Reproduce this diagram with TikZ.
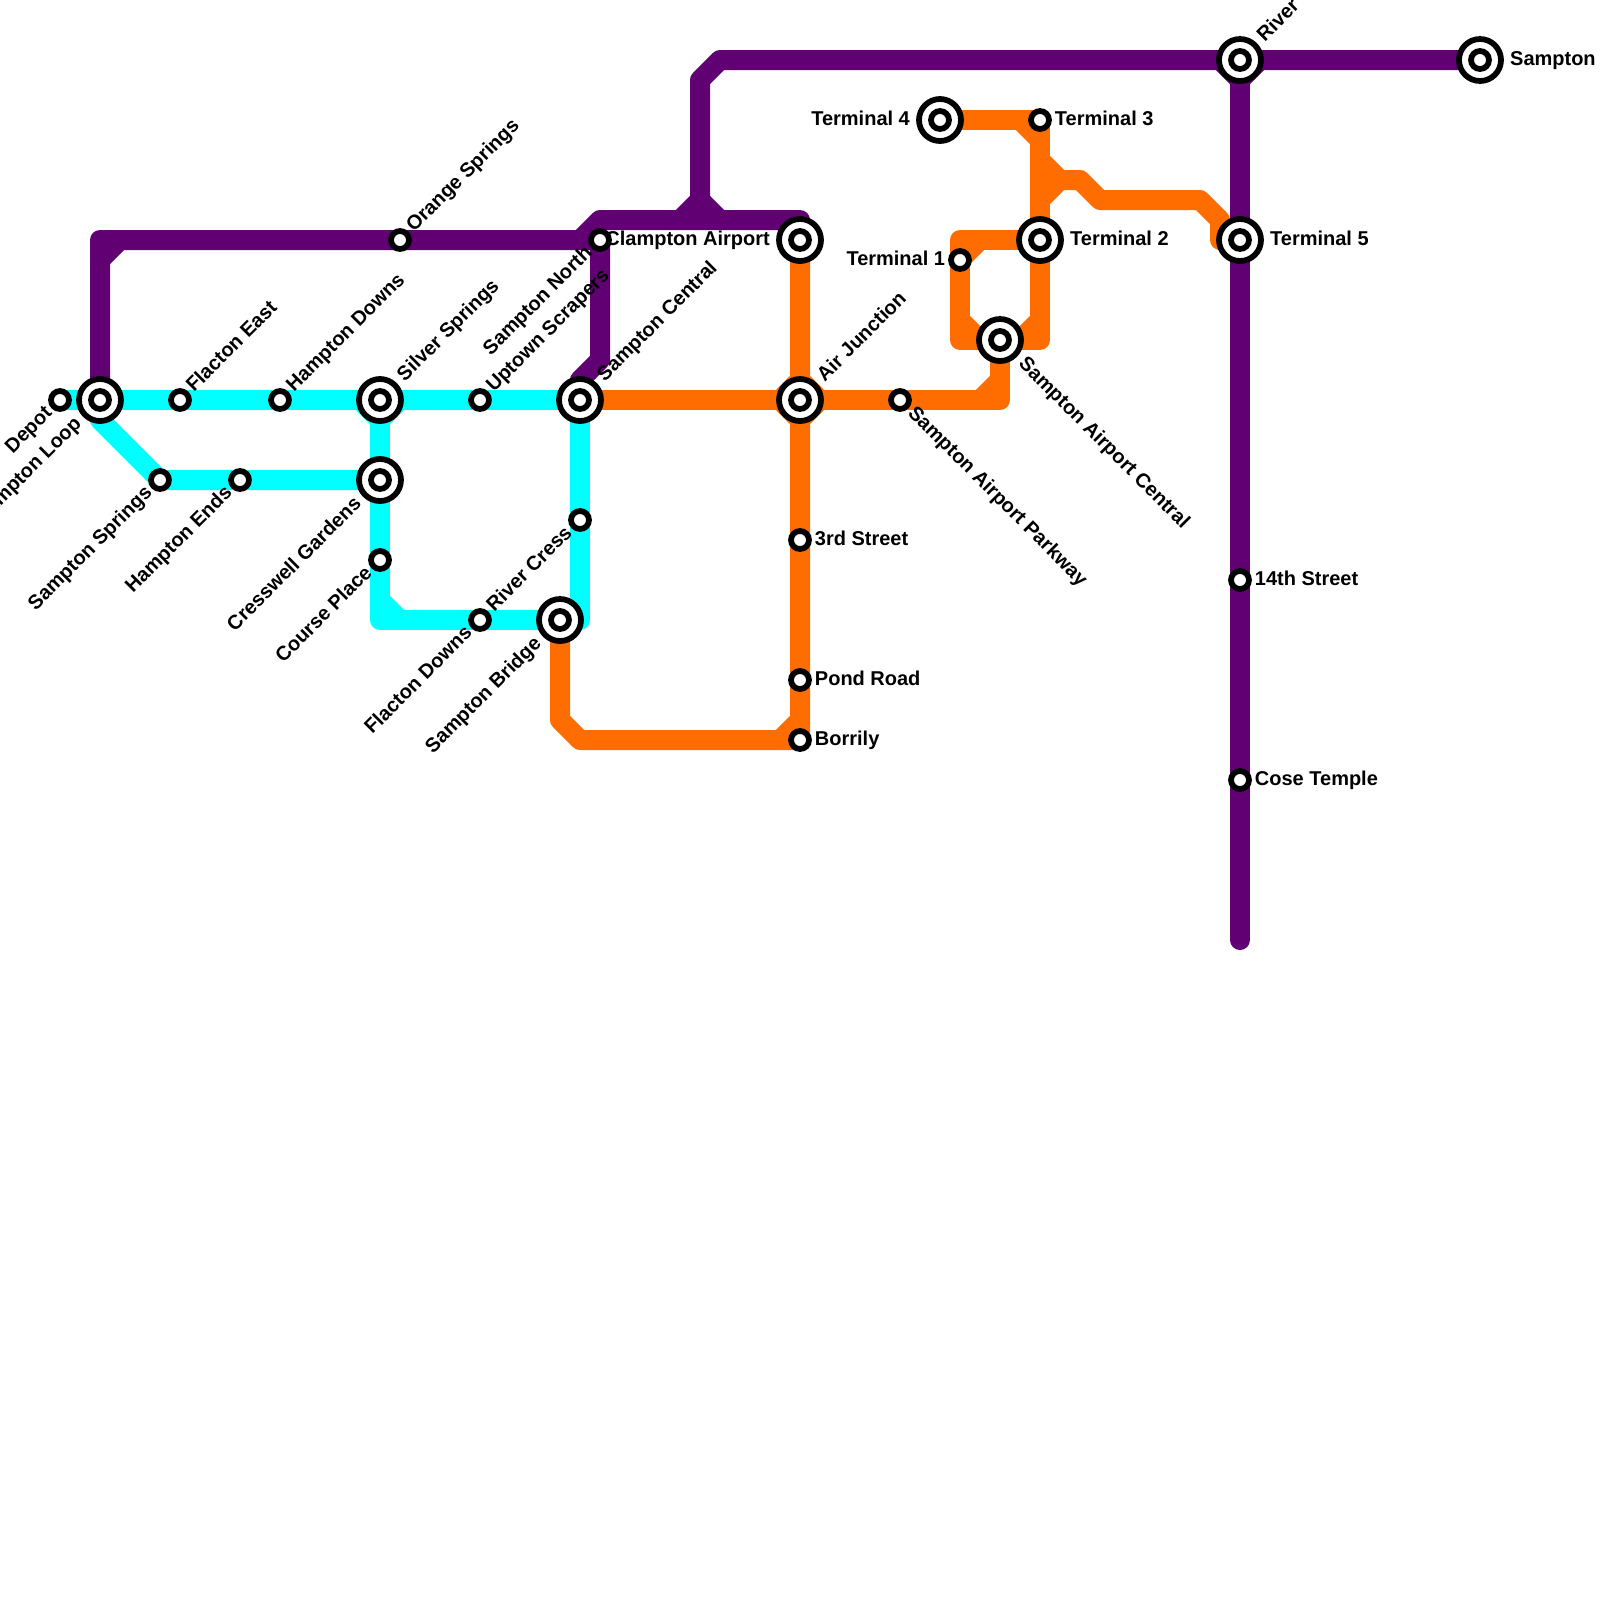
\documentclass[tikz,border=0pt]{standalone}
\usepackage{fontspec}
\setmainfont{Liberation Sans}
\usetikzlibrary{backgrounds}

\definecolor{linepurple}{RGB}{96,0,115}
\definecolor{lineorange}{RGB}{255,108,0}
\definecolor{linecyan}{RGB}{0,255,255}

\begin{document}
\begin{tikzpicture}[
    x=0.25cm, y=-0.25cm,
    every node/.style={font=\bfseries\fontsize{7.11}{8.5}\selectfont},
    smallstn/.style={
        circle, draw=black, line width=0.072cm, fill=white,
        inner sep=0pt, outer sep=0pt, minimum size=0.225cm
    },
    bigstn/.style={
        circle, draw=black, line width=0.072cm, fill=white,
        inner sep=0pt, outer sep=0pt, minimum size=0.525cm
    },
    lbl/.style={inner sep=0pt, text height=0.125cm, text depth=0pt},
    lbleast/.style={lbl, anchor=west, xshift=#1},
    lblwest/.style={lbl, anchor=east, xshift=-#1},
    lblne/.style={lbl, rotate=45, anchor=west, xshift=#1},
    lblsw/.style={lbl, rotate=45, anchor=east, xshift=-#1},
    lblse/.style={lbl, rotate=-45, anchor=west, xshift=#1},
    metroline/.style={line width=0.25cm, line join=round, line cap=round},
    purpleline/.style={metroline, draw=linepurple},
    orangeline/.style={metroline, draw=lineorange},
    cyanline/.style={metroline, draw=linecyan}
]
\useasboundingbox (0,0) rectangle (80,80);

% Interchanges
\foreach \nm/\px/\py in {hl/5/20, ss/19/20, sc/29/20, aj/40/20, cg/19/24, sb/28/31,
    ca/40/12, t4/47/6, t2/52/12, sac/50/17, t5/62/12, rt/62/3, sm/74/3}{
  \node[bigstn] (\nm) at (\px,\py) {};
  \node[smallstn] (\nm in) at (\nm) {};
}

% Stops
\node[smallstn] (dep) at (3,20) {};
\node[smallstn] (fe) at (9,20) {};
\node[smallstn] (hd) at (14,20) {};
\node[smallstn] (us) at (24,20) {};
\node[smallstn] (sap) at (45,20) {};
\node[smallstn] (spr) at (8,24) {};
\node[smallstn] (he) at (12,24) {};
\node[smallstn] (cp) at (19,28) {};
\node[smallstn] (fd) at (24,31) {};
\node[smallstn] (rc) at (29,26) {};
\node[smallstn] (st3) at (40,27) {};
\node[smallstn] (pr) at (40,34) {};
\node[smallstn] (bo) at (40,37) {};
\node[smallstn] (sn) at (30,12) {};
\node[smallstn] (os) at (20,12) {};
\node[smallstn] (t3) at (52,6) {};
\node[smallstn] (t1) at (48,13) {};
\node[smallstn] (st14) at (62,29) {};
\node[smallstn] (ct) at (62,39) {};
\coordinate (jn) at (35,11);
\coordinate (lineend) at (62,47);

% Labels
\node[lblsw=0.18cm] (depl) at (dep) {Depot};
\node[lblsw=0.37cm] (hll) at (hl) {Sampton Loop};
\node[lblne=0.18cm] (fel) at (fe) {Flacton East};
\node[lblne=0.18cm] (hdl) at (hd) {Hampton Downs};
\node[lblne=0.37cm] (ssl) at (ss) {Silver Springs};
\node[lblne=0.18cm] (usl) at (us) {Uptown Scrapers};
\node[lblne=0.37cm] (scl) at (sc) {Sampton Central};
\node[lblne=0.37cm] (ajl) at (aj) {Air Junction};
\node[lblse=0.18cm] (sapl) at (sap) {Sampton Airport Parkway};
\node[lblsw=0.18cm] (sprl) at (spr) {Sampton Springs};
\node[lblsw=0.18cm] (hel) at (he) {Hampton Ends};
\node[lblsw=0.37cm] (cgl) at (cg) {Cresswell Gardens};
\node[lblsw=0.18cm] (cpl) at (cp) {Course Place};
\node[lblsw=0.18cm] (fdl) at (fd) {Flacton Downs};
\node[lblsw=0.37cm] (sbl) at (sb) {Sampton Bridge};
\node[lblsw=0.18cm] (rcl) at (rc) {River Cress};
\node[lbleast=0.18cm] (st3l) at (st3) {3rd Street};
\node[lbleast=0.18cm] (prl) at (pr) {Pond Road};
\node[lbleast=0.18cm] (bol) at (bo) {Borrily};
\node[lblwest=0.37cm] (cal) at (ca) {Clampton Airport};
\node[lblsw=0.18cm] (snl) at (sn) {Sampton North};
\node[lblne=0.18cm] (osl) at (os) {Orange Springs};
\node[lblwest=0.37cm] (t4l) at (t4) {Terminal 4};
\node[lbleast=0.18cm] (t3l) at (t3) {Terminal 3};
\node[lbleast=0.37cm] (t2l) at (t2) {Terminal 2};
\node[lblwest=0.18cm] (t1l) at (t1) {Terminal 1};
\node[lblse=0.37cm] (sacl) at (sac) {Sampton Airport Central};
\node[lbleast=0.37cm] (t5l) at (t5) {Terminal 5};
\node[lblne=0.37cm] (rtl) at (rt) {River};
\node[lbleast=0.37cm] (sml) at (sm) {Sampton};
\node[lbleast=0.18cm] (st14l) at (st14) {14th Street};
\node[lbleast=0.18cm] (ctl) at (ct) {Cose Temple};

\begin{pgfonlayer}{background}
  % Cyan line
  \draw[cyanline] (dep.center) -- (sc.center);
  \draw[cyanline] (hl.center) -- ++(0,1) -- (spr.center) -- (cg.center);
  \draw[cyanline] (ss.center) -- (cp.center) -- ++(0,3) -- (sb.center) -- ++(1,0) -- (sc.center);
  \draw[cyanline] (cp.center) ++(0,2) -- ++(1,1);
  \draw[cyanline] (ss.center) ++(-1,0) -- ++(1,1) -- ++(1,-1);

  % Orange line
  \draw[orangeline] (sc.center) -- (sap.center) -- ++(5,0) -- (sac.center);
  \draw[orangeline] (sac.center) ++(-1,3) -- ++(1,-1);
  \draw[orangeline] (aj.center) ++(-1,0) -- ++(1,-1) -- ++(1,1) -- ++(-1,1) -- cycle;
  \draw[orangeline] (ca.center) -- (bo.center) -- ++(-11,0) -- ++(-1,-1) -- (sb.center);
  \draw[orangeline] (bo.center) ++(-1,0) -- ++(1,-1);
  \draw[orangeline] (t4.center) -- (t3.center) -- (t2.center) -- ++(0,5) -- ++(-4,0) -- (t1.center) -- ++(0,-1) -- (t2.center);
  \draw[orangeline] (t3.center) ++(-1,0) -- ++(1,1);
  \draw[orangeline] (t1.center) -- ++(1,-1);
  \draw[orangeline] (sac.center) ++(-2,-1) -- ++(1,1);
  \draw[orangeline] (sac.center) ++(2,-1) -- ++(-1,1);
  \draw[orangeline] (t3.center) ++(0,2) -- ++(1,1) -- ++(1,0) -- ++(1,1) -- ++(5,0) -- ++(1,1) -- ++(0,1) -- (t5.center);
  \draw[orangeline] (t2.center) ++(0,-2) -- ++(1,-1);

  % Purple line
  \draw[purpleline] (hl.center) -- ++(0,-8) -- (sn.center) -- ++(0,6) -- ++(-1,1) -- (sc.center);
  \draw[purpleline] (hl.center) ++(0,-7) -- ++(1,-1);
  \draw[purpleline] (sn.center) ++(-1,0) -- ++(1,-1) -- ++(10,0) -- (ca.center);
  \draw[purpleline] (jn) -- ++(0,-7) -- ++(1,-1) -- (rt.center) -- (sm.center);
  \draw[purpleline] (jn) ++(-1,0) -- ++(1,-1) -- ++(1,1);
  \draw[purpleline] (rt.center) -- (lineend);
  \draw[purpleline] (rt.center) ++(-1,0) -- ++(1,1) -- ++(1,-1);
\end{pgfonlayer}

\end{tikzpicture}
\end{document}
